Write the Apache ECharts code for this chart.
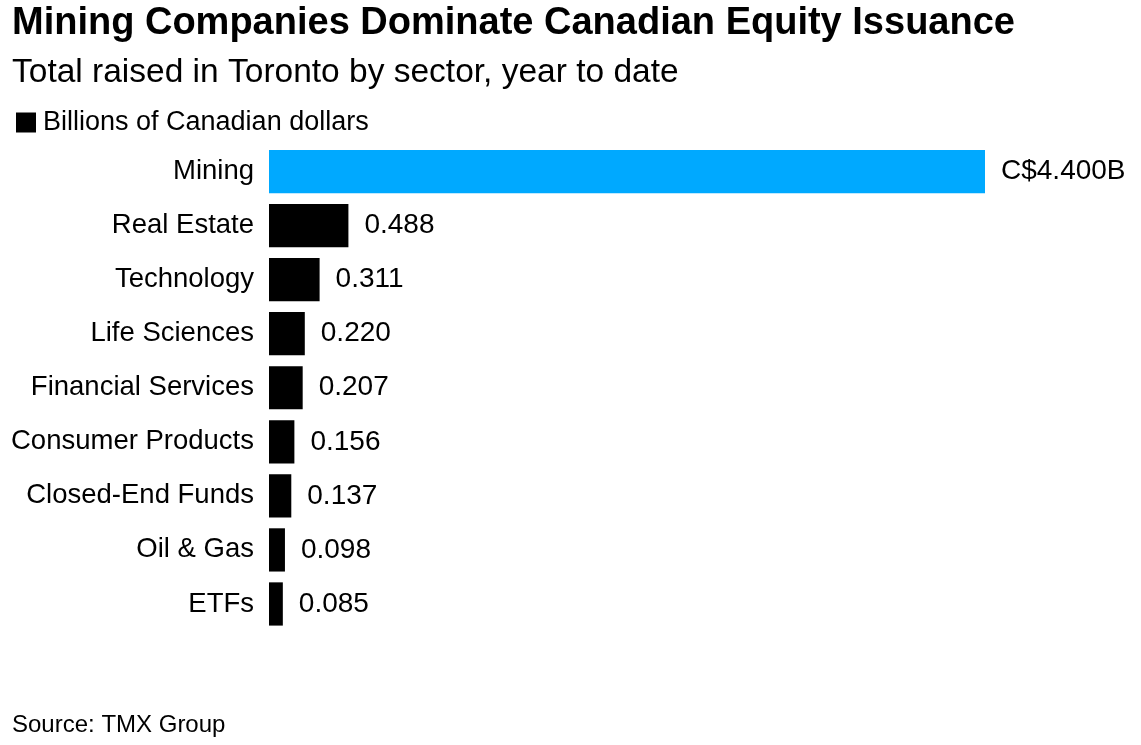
<!DOCTYPE html>
<html>
<head>
<meta charset="utf-8">
<script src="https://cdn.jsdelivr.net/npm/echarts@6/dist/echarts.min.js"></script>
<style>
html,body{margin:0;padding:0;background:#fff;}
#c{width:1141px;height:745px;}
</style>
</head>
<body>
<div id="c"></div>
<script>
const categories = ["Mining","Real Estate","Technology","Life Sciences","Financial Services","Consumer Products","Closed-End Funds","Oil & Gas","ETFs"];
const values = [4.400,0.488,0.311,0.220,0.207,0.156,0.137,0.098,0.085];
const seriesName = "Billions of Canadian dollars";

const chart = echarts.init(document.getElementById('c'));
const font = "'Liberation Sans', Arial, sans-serif";
chart.setOption({
  animation:false,
  textStyle:{fontFamily:font},
  title:[
    {text:"Mining Companies Dominate Canadian Equity Issuance",left:12,top:5,padding:0,
     textStyle:{fontFamily:font,fontSize:38,fontWeight:'bold',color:'#000'}},
    {text:"Total raised in Toronto by sector, year to date",left:12,top:56,padding:0,
     textStyle:{fontFamily:font,fontSize:33.5,fontWeight:'normal',color:'#000'}},
    {text:"Source: TMX Group",left:12,top:713,padding:0,
     textStyle:{fontFamily:font,fontSize:24,fontWeight:'normal',color:'#000'}}
  ],
  legend:{left:16,top:109,padding:0,icon:'rect',itemWidth:20,itemHeight:20,itemGap:8,
    textStyle:{fontFamily:font,fontSize:27,color:'#000',padding:[0,0,0,2]},
    data:[seriesName]},
  grid:{left:269,right:156,top:144.5,bottom:114,containLabel:false},
  xAxis:{type:'value',min:0,max:4.4,show:false},
  yAxis:{type:'category',data:categories,inverse:true,
    axisLine:{show:false},axisTick:{show:false},
    axisLabel:{fontFamily:font,fontSize:27.5,color:'#000',margin:15}},
  series:[{
    name:seriesName,type:'bar',barCategoryGap:'20%',
    itemStyle:{color:'#000'},
    data:values.map((v,i)=> i===0 ? {value:v,itemStyle:{color:'#00A9FF'}} : v),
    label:{show:true,position:'right',distance:16,fontFamily:font,fontSize:28,color:'#000',
      formatter:p=> p.dataIndex===0 ? 'C$'+p.value.toFixed(3)+'B' : p.value.toFixed(3)}
  }]
});
</script>
</body>
</html>
